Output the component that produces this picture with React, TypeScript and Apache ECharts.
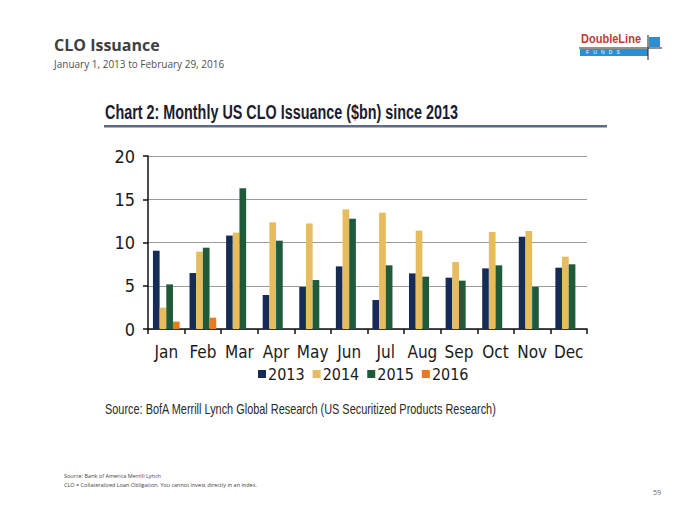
import React, { useEffect, useRef } from "react";
import * as echarts from "echarts";

const months = ["Jan", "Feb", "Mar", "Apr", "May", "Jun", "Jul", "Aug", "Sep", "Oct", "Nov", "Dec"];
const years = ["2013", "2014", "2015", "2016"];
const s2013 = [9.05, 6.47, 10.8, 3.93, 4.86, 7.24, 3.35, 6.43, 5.93, 7.01, 10.67, 7.09];
const s2014 = [2.47, 8.94, 11.14, 12.33, 12.2, 13.83, 13.45, 11.37, 7.74, 11.21, 11.33, 8.36];
const s2015 = [5.16, 9.4, 16.26, 10.21, 5.66, 12.75, 7.36, 6.05, 5.59, 7.36, 4.86, 7.48];
const s2016 = [0.85, 1.31, null, null, null, null, null, null, null, null, null, null];
const yTicks = [0, 5, 10, 15, 20];
const colors = ["#172b57", "#e6bc5c", "#1f5b3a", "#ec7a1c"];

const NARROW = '"DejaVu Sans Condensed", "Roboto Condensed", Roboto, sans-serif';

export default function App() {
  const ref = useRef<HTMLDivElement>(null);
  useEffect(() => {
    if (!ref.current) return;
    const chart = echarts.init(ref.current, null, { renderer: "svg" });
    const seriesData = [s2013, s2014, s2015, s2016];
    chart.setOption({
      animation: false,
      backgroundColor: "#ffffff",
      grid: { left: 148, right: 113, top: 156, bottom: 196 },
      legend: {
        data: years,
        left: 253,
        top: 361,
        icon: "rect",
        itemWidth: 8,
        itemHeight: 8,
        itemGap: 8,
        textStyle: { fontFamily: NARROW, fontSize: 16, color: "#1a1a1a", padding: [0, 0, 0, -3] },
      },
      xAxis: {
        type: "category",
        data: months,
        axisLine: { lineStyle: { color: "#111", width: 1.5 } },
        axisTick: { show: true, length: 5, lineStyle: { color: "#111", width: 1.5 } },
        axisLabel: { fontFamily: NARROW, fontSize: 17, color: "#1a1a1a", margin: 14, interval: 0 },
      },
      yAxis: {
        type: "value",
        min: yTicks[0],
        max: yTicks[yTicks.length - 1],
        interval: 5,
        axisLine: { show: true, lineStyle: { color: "#111", width: 1.5 } },
        axisTick: { show: true, length: 5, lineStyle: { color: "#111", width: 1.5 } },
        axisLabel: { fontFamily: NARROW, fontSize: 18, color: "#1a1a1a", margin: 13 },
        splitLine: { show: true, lineStyle: { color: "#9a9a9a", width: 1 } },
      },
      series: years.map((y, i) => ({
        name: y,
        type: "bar",
        data: seriesData[i],
        itemStyle: { color: colors[i] },
        barGap: "0%",
        barCategoryGap: "27%",
      })),
      graphic: [
        { type: "text", left: 54, top: 37, style: { text: "CLO Issuance", font: 'bold 16px "Open Sans", sans-serif', fill: "#404040" } },
        { type: "text", left: 54, top: 59, style: { text: "January 1, 2013 to February 29, 2016", font: '10px "Open Sans", sans-serif', fill: "#505050" } },
        // logo
        { type: "rect", shape: { x: 580, y: 49, width: 68, height: 7 }, style: { fill: "#2b8fd0" } },
        { type: "rect", shape: { x: 649, y: 37, width: 11, height: 10 }, style: { fill: "#2b8fd0" } },
        { type: "line", shape: { x1: 579, y1: 48, x2: 662, y2: 48 }, style: { stroke: "#222", lineWidth: 1 } },
        { type: "line", shape: { x1: 648, y1: 35, x2: 648, y2: 60 }, style: { stroke: "#222", lineWidth: 1 } },
        { type: "text", x: 581, y: 33, scaleX: 0.92, style: { text: "DoubleLine", font: 'bold 12px "Liberation Sans", Arial, sans-serif', fill: "#c23b3b" } },
        { type: "text", left: 586, top: 49.5, style: { text: "F   U   N   D   S", font: '5px "Liberation Sans", Arial, sans-serif', fill: "#ffffff" } },
        // chart title
        { type: "text", x: 105, y: 101, scaleX: 0.685, style: { text: "Chart 2: Monthly US CLO Issuance ($bn) since 2013", font: 'bold 21px "Liberation Sans", Arial, sans-serif', fill: "#1c1c30" } },
        { type: "rect", shape: { x: 104, y: 125, width: 503, height: 2.5 }, style: { fill: "#5b6b8c" } },
        // source
        { type: "text", x: 105, y: 403, scaleX: 0.78, style: { text: "Source: BofA Merrill Lynch Global Research (US Securitized Products Research)", font: '14px "Liberation Sans", Arial, sans-serif', fill: "#2a2a2a" } },
        // footer
        { type: "text", left: 64, top: 473, style: { text: "Source: Bank of America Merrill Lynch", font: '5.5px "Open Sans", sans-serif', fill: "#444" } },
        { type: "text", left: 64, top: 482, style: { text: "CLO = Collateralized Loan Obligation. You cannot invest directly in an index.", font: '5.5px "Open Sans", sans-serif', fill: "#444" } },
        { type: "text", left: 653, top: 489, style: { text: "59", font: '7px "Open Sans", sans-serif', fill: "#666" } },
      ],
    });
    return () => chart.dispose();
  }, []);
  return (
    <div
      ref={ref}
      style={{ position: "fixed", left: 0, top: 0, width: 700, height: 525, background: "#fff" }}
    />
  );
}
